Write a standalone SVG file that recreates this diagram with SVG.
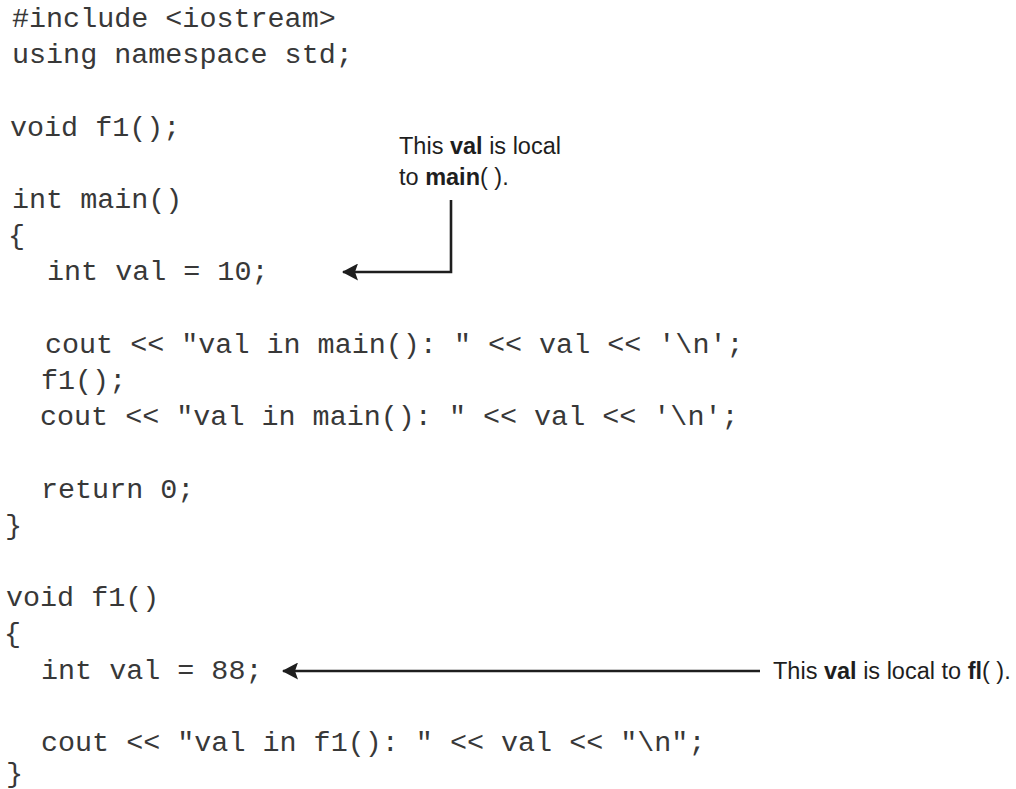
<svg xmlns="http://www.w3.org/2000/svg" width="1016" height="789" viewBox="0 0 1016 789">
  <style>
    .code { font-family: "Liberation Mono", "Courier New", monospace; font-size: 28.4px; fill: #383838; white-space: pre; }
    .note { font-family: "Liberation Sans", Arial, sans-serif; font-size: 23.5px; fill: #1e1e1e; white-space: pre; }
    .note .b { font-weight: bold; }
    .wire { fill: none; stroke: #1e1e1e; stroke-width: 2.6; }
  </style>
  <defs>
    <!-- filled arrowhead with a slight notch at the back; tip sits on the path end -->
    <marker id="head" viewBox="0 0 16 17" refX="15" refY="8.5" markerWidth="16" markerHeight="17" markerUnits="userSpaceOnUse" orient="auto">
      <path d="M16,8.5 L0,0 L3,8.5 L0,17 Z" fill="#1e1e1e"/>
    </marker>
  </defs>

  <rect width="1016" height="789" fill="#ffffff"/>

  <!-- source listing -->
  <g id="listing">
    <text class="code" x="12" y="27">#include &lt;iostream&gt;</text>
    <text class="code" x="12" y="63">using namespace std;</text>
    <text class="code" x="10" y="135.6">void f1();</text>
    <text class="code" x="12" y="208">int main()</text>
    <text class="code" x="8" y="244.2">{</text>
    <text class="code" x="47" y="280.4">int val = 10;</text>
    <text class="code" x="45" y="352.8">cout &lt;&lt; "val in main(): " &lt;&lt; val &lt;&lt; '\n';</text>
    <text class="code" x="41" y="389">f1();</text>
    <text class="code" x="40" y="425.2">cout &lt;&lt; "val in main(): " &lt;&lt; val &lt;&lt; '\n';</text>
    <text class="code" x="41" y="497.6">return 0;</text>
    <text class="code" x="5" y="533.8">}</text>
    <text class="code" x="6" y="606.2">void f1()</text>
    <text class="code" x="4" y="642.4">{</text>
    <text class="code" x="41" y="678.6">int val = 88;</text>
    <text class="code" x="41" y="751">cout &lt;&lt; "val in f1(): " &lt;&lt; val &lt;&lt; "\n";</text>
    <text class="code" x="6" y="782">}</text>
  </g>

  <!-- callout for main's val -->
  <g id="note-main">
    <text class="note" x="399" y="154">This <tspan class="b">val</tspan> is local</text>
    <text class="note" x="399" y="185">to <tspan class="b">main</tspan>( ).</text>
  </g>

  <!-- callout for f1's val -->
  <g id="note-f1">
    <text class="note" x="773" y="679">This <tspan class="b">val</tspan> is local to <tspan class="b">fl</tspan>( ).</text>
  </g>

  <!-- pointers from callouts to the declarations -->
  <g id="connectors">
    <path class="wire" d="M451,200 V272 H343" marker-end="url(#head)"/>
    <path class="wire" d="M760,671 H283" marker-end="url(#head)"/>
  </g>
</svg>
